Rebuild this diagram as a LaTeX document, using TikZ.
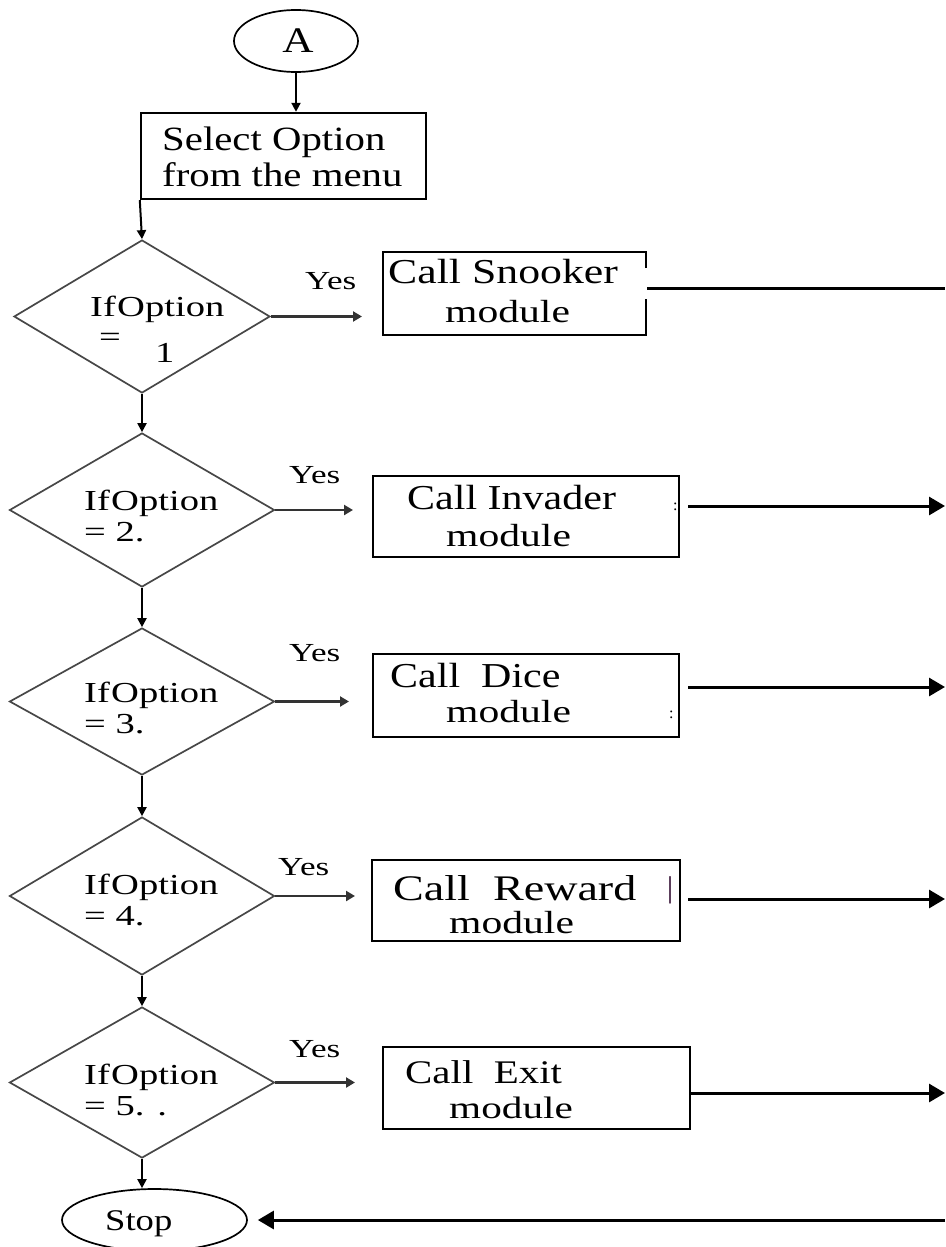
\documentclass[tikz,border=0pt]{standalone}
\usepackage{fontspec}
\setmainfont{Liberation Serif}
\usepackage{graphicx}
\usetikzlibrary{shapes.geometric,arrows.meta}
% text in this chart is set wide
\newcommand{\widetxt}[2][1.25]{\scalebox{#1}[1]{#2}}
\newcommand{\fsz}[1]{\fontsize{#1}{#1}\selectfont}
\tikzset{
  procbox/.style={rectangle, draw=black, line width=2.4pt, inner sep=0pt},
  decision/.style={diamond, draw=black!72, line width=1.7pt, inner sep=0pt},
  terminal/.style={ellipse, draw=black, line width=1.7pt, inner sep=0pt},
  flow/.style={draw=black, line width=2pt, -{Triangle[length=9pt,width=9pt]}},
  yesflow/.style={draw=black!80, line width=2.6pt, -{Triangle[length=9pt,width=10pt]}},
  outlink/.style={draw=black, line width=3pt, -{Triangle[length=16pt,width=18pt]}},
  lbl/.style={inner sep=0pt, anchor=base west},
}
\begin{document}
\begin{tikzpicture}[x=1pt,y=-1pt]
\useasboundingbox (0,0) rectangle (945,1247);

% ---- terminals ----
\node[terminal, minimum width=124pt, minimum height=62pt] (a) at (296,41) {};
\node[inner sep=0pt, font=\fsz{36}] (a-t) at (298,41) {\widetxt[1.2]{A}};
\node[terminal, minimum width=185pt, minimum height=62pt] (stop) at (154.5,1220) {};
\node[lbl, font=\fsz{30}] (stop-t) at (105,1230) {\widetxt[1.22]{Stop}};

% ---- selection box ----
\node[procbox, minimum width=285pt, minimum height=86pt] (sel) at (283.5,156) {};
\node[lbl, font=\fsz{34}] (sel-t1) at (162,150) {\widetxt[1.2]{Select Option}};
\node[lbl, font=\fsz{34}] (sel-t2) at (162,186) {\widetxt[1.2]{from the menu}};

% ---- decisions ----
\node[decision, minimum width=256pt, minimum height=153pt] (d1) at (142,316.5) {};
\node[decision, minimum width=265pt, minimum height=154pt] (d2) at (142,510) {};
\node[decision, minimum width=265pt, minimum height=147pt] (d3) at (142,701.5) {};
\node[decision, minimum width=265pt, minimum height=158pt] (d4) at (142,896) {};
\node[decision, minimum width=265pt, minimum height=151pt] (d5) at (142,1082.5) {};

\node[lbl, font=\fsz{29}] (d1-t1) at (90,316) {\widetxt[1.33]{If\kern1pt Option}};
\node[lbl, font=\fsz{29}] (d1-t2) at (99,346) {\widetxt[1.33]{=}};
\node[lbl, font=\fsz{29}] (d1-t3) at (155,362) {\widetxt[1.33]{1}};
\node[lbl, font=\fsz{29}] (d2-t1) at (84,510) {\widetxt[1.33]{If\kern1pt Option}};
\node[lbl, font=\fsz{29}] (d2-t2) at (84,541) {\widetxt[1.33]{= 2.}};
\node[lbl, font=\fsz{29}] (d3-t1) at (84,702) {\widetxt[1.33]{If\kern1pt Option}};
\node[lbl, font=\fsz{29}] (d3-t2) at (84,733) {\widetxt[1.33]{= 3.}};
\node[lbl, font=\fsz{29}] (d4-t1) at (84,894) {\widetxt[1.33]{If\kern1pt Option}};
\node[lbl, font=\fsz{29}] (d4-t2) at (84,925) {\widetxt[1.33]{= 4.}};
\node[lbl, font=\fsz{29}] (d5-t1) at (84,1084) {\widetxt[1.33]{If\kern1pt Option}};
\node[lbl, font=\fsz{29}] (d5-t2) at (84,1115) {\widetxt[1.33]{= 5. .}};

% ---- module boxes ----
\node[minimum width=263pt, minimum height=83pt, inner sep=0pt] (snk) at (514.5,293.5) {};
\draw[line width=2.4pt] (snk.east |- 0,268) -- (snk.north east) -- (snk.north west)
  -- (snk.south west) -- (snk.south east) -- (snk.east |- 0,299);
\node[procbox, minimum width=306pt, minimum height=81pt] (inv) at (526,516.5) {};
\node[procbox, minimum width=306pt, minimum height=83pt] (dice) at (526,695.5) {};
\node[procbox, minimum width=308pt, minimum height=81pt] (rew) at (526,900.5) {};
\node[procbox, minimum width=307pt, minimum height=82pt] (ext) at (536.5,1088) {};

\node[lbl, font=\fsz{35}] (snk-t1) at (388,283) {\widetxt[1.25]{Call Snooker}};
\node[lbl, font=\fsz{32}] (snk-t2) at (445,322) {\widetxt[1.3]{module}};
\node[lbl, font=\fsz{35}] (inv-t1) at (407,509) {\widetxt[1.2]{Call Invader}};
\node[lbl, font=\fsz{32}] (inv-t2) at (446,546) {\widetxt[1.3]{module}};
\node[lbl, font=\fsz{16}] (inv-t3) at (673,510) {:};
\node[lbl, font=\fsz{35}] (dice-t1) at (390,687) {\widetxt[1.2]{Call\enspace Dice}};
\node[lbl, font=\fsz{32}] (dice-t2) at (446,722) {\widetxt[1.3]{module}};
\node[lbl, font=\fsz{16}] (dice-t3) at (669,718) {:};
\node[lbl, font=\fsz{36}] (rew-t1) at (393,900) {\widetxt[1.28]{Call\enspace Reward}};
\node[lbl, font=\fsz{32}] (rew-t2) at (449,933) {\widetxt[1.3]{module}};
\node[lbl, font=\fsz{30}, text=black!70!violet] (rew-t3) at (667,897) {|};
\node[lbl, font=\fsz{33}] (ext-t1) at (405,1083) {\widetxt[1.24]{Call\enspace Exit}};
\node[lbl, font=\fsz{31}] (ext-t2) at (449,1118) {\widetxt[1.33]{module}};

% ---- Yes branches ----
\coordinate (y1) at (362,316.5);
\coordinate (y2) at (353,510);
\coordinate (y3) at (349,701.5);
\coordinate (y4) at (355,896);
\coordinate (y5) at (355,1082.5);
\draw[yesflow] (d1.east) -- (y1);
\draw[yesflow] (d2.east) -- (y2);
\draw[yesflow] (d3.east) -- (y3);
\draw[yesflow] (d4.east) -- (y4);
\draw[yesflow] (d5.east) -- (y5);
\node[lbl, font=\fsz{26}] (yes1) at (305,289) {\widetxt[1.35]{Yes}};
\node[lbl, font=\fsz{26}] (yes2) at (289,483) {\widetxt[1.35]{Yes}};
\node[lbl, font=\fsz{26}] (yes3) at (289,661) {\widetxt[1.35]{Yes}};
\node[lbl, font=\fsz{26}] (yes4) at (278,875) {\widetxt[1.35]{Yes}};
\node[lbl, font=\fsz{26}] (yes5) at (289,1057) {\widetxt[1.35]{Yes}};

% ---- main spine ----
\draw[flow] (a.south) -- (a.south |- sel.north);
\draw[flow] (sel.south west) -- (d1.north);
\draw[flow] (d1.south) -- (d2.north);
\draw[flow] (d2.south) -- (d3.north);
\draw[flow] (d3.south) -- (d4.north);
\draw[flow] (d4.south) -- (d5.north);
\draw[flow] (d5.south) -- (d5.south |- stop.north);

% ---- links out to the right and back to Stop ----
\coordinate (snk-o) at (647,288);
\coordinate (snk-e) at (945,288);
\coordinate (inv-o) at (688,506);
\coordinate (inv-e) at (945,506);
\coordinate (dice-o) at (688,687);
\coordinate (dice-e) at (945,687);
\coordinate (rew-o) at (688,899);
\coordinate (rew-e) at (945,899);
\coordinate (ext-e) at (945,1093);
\coordinate (ret) at (945,1220);
\draw[line width=3pt] (snk-o) -- (snk-e);
\draw[outlink] (inv-o) -- (inv-e);
\draw[outlink] (dice-o) -- (dice-e);
\draw[outlink] (rew-o) -- (rew-e);
\draw[outlink] (ext.east |- ext-e) -- (ext-e);
\draw[outlink, shorten >=10pt] (ret) -- (stop.east |- ret);
\end{tikzpicture}
\end{document}
